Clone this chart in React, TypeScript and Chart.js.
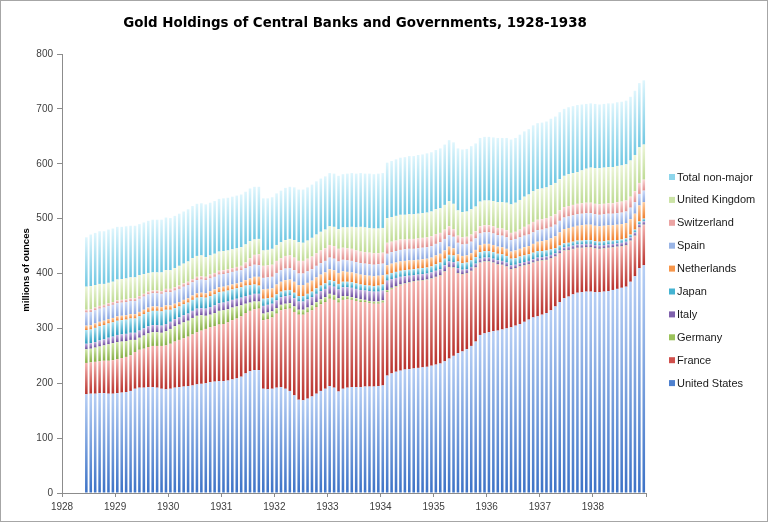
import { useEffect, useRef } from 'react';
import { Chart, registerables } from 'chart.js';

Chart.register(...registerables);

const TITLE = 'Gold Holdings of Central Banks and Governments, 1928-1938';
const Y_TITLE = 'millions of ounces';

// Categories: monthly, June 1928 .. December 1938
const FIRST_YEAR = 1928;
const FIRST_MONTH = 6;
const LAST_YEAR = 1938;
const months: string[] = [];
for (let y = FIRST_YEAR; y <= LAST_YEAR; y++) {
  for (let m = 1; m <= 12; m++) {
    if (y === FIRST_YEAR && m < FIRST_MONTH) continue;
    months.push(`${y}-${String(m).padStart(2, '0')}`);
  }
}

const yearLabels = ['1928', '1929', '1930', '1931', '1932', '1933', '1934', '1935', '1936', '1937', '1938'];

// millions of ounces
const unitedStates = [
  180, 181, 181, 182, 182, 181, 181,
  182, 183, 184, 186, 190, 192, 192, 193, 193, 192, 190, 189,
  190, 192, 193, 194, 195, 196, 198, 199, 200, 202, 203, 204,
  204, 205, 207, 209, 212, 218, 222, 224, 224, 190, 189, 190,
  192, 193, 190, 186, 178, 170, 169, 172, 176, 181, 186, 190,
  195, 192, 185, 190, 192, 193, 193, 193, 194, 194, 194, 195,
  196, 214, 218, 221, 223, 225, 226, 227, 228, 229, 230, 232,
  234, 236, 240, 245, 250, 255, 258, 262, 268, 276, 288, 291,
  293, 295, 296, 298, 300, 302, 305, 308, 312, 316, 320, 322,
  325, 328, 333, 340, 348, 355, 358, 362, 365, 366, 367, 367,
  366, 366, 367, 368, 370, 372, 374, 376, 385, 395, 410, 415,
];
const france = [
  57, 57, 58, 58, 59, 60, 61,
  62, 63, 64, 65, 67, 69, 71, 73, 75, 76, 78, 80,
  82, 84, 86, 88, 90, 93, 95, 97, 99, 100, 101, 103,
  104, 106, 108, 109, 110, 110, 110, 111, 112, 125, 128, 130,
  135, 140, 145, 150, 152, 155, 156, 157, 157, 158, 158, 158,
  159, 160, 162, 162, 161, 159, 157, 155, 154, 152, 151, 150,
  151, 152, 153, 154, 155, 156, 157, 158, 158, 158, 158, 158,
  159, 160, 163, 166, 160, 145, 140, 138, 136, 134, 131, 130,
  128, 124, 120, 117, 112, 105, 104, 104, 102, 100, 99, 100,
  98, 96, 94, 90, 88, 86, 84, 82, 81, 80, 80, 80,
  79, 78, 78, 78, 77, 76, 75, 75, 74, 73, 73, 73,
];
const germany = [
  25, 25, 26, 27, 28, 30, 31,
  31, 30, 29, 28, 22, 22, 24, 25, 25, 25, 24, 26,
  27, 28, 28, 29, 29, 30, 30, 28, 24, 23, 24, 25,
  25, 24, 23, 22, 20, 17, 15, 14, 13, 12, 12, 11,
  10, 10, 10, 10, 10, 9, 9, 9, 9, 9, 9, 9,
  9, 9, 8, 7, 6, 5, 5, 5, 4, 4, 4, 4,
  4, 4, 3, 2, 2, 1, 1, 1, 1, 1, 1, 1,
  1, 1, 1, 1, 1, 1, 1, 1, 1, 1, 1, 1,
  1, 1, 1, 1, 1, 1, 1, 1, 1, 1, 1, 1,
  1, 1, 1, 1, 1, 1, 1, 1, 1, 1, 1, 1,
  1, 1, 1, 1, 1, 1, 1, 1, 1, 1, 1, 1,
];
const italy = [
  10, 10, 10, 11, 11, 12, 12,
  13, 13, 13, 13, 13, 13, 13, 13, 13, 13, 13, 13,
  13, 13, 13, 13, 13, 13, 13, 13, 13, 14, 14, 14,
  14, 14, 14, 14, 14, 14, 14, 14, 14, 14, 14, 14,
  14, 14, 14, 14, 15, 15, 15, 15, 15, 15, 15, 15,
  15, 15, 16, 16, 16, 17, 17, 17, 17, 18, 18, 18,
  18, 17, 16, 15, 14, 13, 12, 11, 11, 11, 11, 11,
  11, 11, 11, 10, 10, 9, 8, 7, 7, 7, 7, 7,
  7, 7, 7, 7, 7, 7, 6, 6, 6, 6, 6, 6,
  6, 6, 6, 6, 6, 6, 6, 6, 6, 6, 6, 6,
  6, 6, 6, 6, 6, 6, 6, 6, 6, 6, 6, 6,
];
const japan = [
  25, 25, 26, 26, 26, 26, 26,
  26, 26, 26, 26, 26, 26, 26, 26, 26, 26, 26, 26,
  22, 20, 20, 20, 20, 20, 20, 20, 20, 20, 20, 20,
  20, 20, 19, 19, 19, 19, 18, 17, 15, 13, 12, 11,
  11, 10, 10, 10, 10, 10, 10, 10, 10, 10, 10, 10,
  10, 10, 10, 10, 10, 10, 10, 10, 10, 10, 10, 11,
  11, 11, 11, 11, 11, 11, 11, 11, 11, 11, 11, 11,
  12, 12, 12, 12, 12, 12, 12, 12, 12, 12, 12, 12,
  12, 12, 12, 12, 12, 12, 12, 12, 12, 12, 12, 12,
  11, 11, 10, 9, 8, 7, 7, 7, 7, 7, 7, 7,
  7, 7, 7, 7, 6, 6, 6, 6, 5, 5, 5, 5,
];
const netherlands = [
  8, 8, 8, 8, 8, 8, 8,
  8, 8, 8, 8, 8, 8, 8, 8, 8, 8, 8, 8,
  8, 8, 8, 8, 8, 8, 8, 8, 8, 9, 9, 9,
  9, 9, 9, 9, 9, 10, 12, 14, 16, 17, 17, 17,
  18, 18, 19, 19, 20, 20, 20, 20, 20, 20, 20, 20,
  20, 20, 20, 19, 18, 18, 18, 18, 18, 18, 18, 18,
  17, 17, 17, 17, 17, 17, 17, 16, 16, 16, 16, 16,
  16, 16, 15, 15, 13, 13, 13, 13, 13, 13, 13, 13,
  13, 13, 13, 13, 13, 13, 14, 14, 15, 15, 16, 17,
  18, 19, 20, 22, 24, 26, 27, 27, 27, 28, 28, 28,
  28, 28, 28, 28, 28, 28, 28, 28, 28, 29, 29, 30,
];
const spain = [
  24, 24, 24, 24, 24, 24, 24,
  24, 24, 24, 24, 24, 24, 24, 24, 24, 24, 24, 24,
  24, 24, 24, 24, 24, 24, 24, 24, 24, 23, 23, 23,
  23, 23, 23, 23, 22, 22, 22, 22, 21, 21, 21, 21,
  21, 21, 21, 21, 21, 21, 21, 21, 21, 21, 21, 21,
  21, 21, 21, 21, 21, 21, 21, 21, 21, 21, 21, 21,
  21, 21, 21, 21, 21, 21, 21, 21, 21, 21, 21, 21,
  21, 21, 21, 21, 21, 21, 21, 21, 21, 21, 21, 21,
  21, 21, 21, 21, 21, 21, 21, 21, 21, 21, 21, 21,
  21, 21, 21, 21, 21, 21, 21, 21, 21, 21, 21, 21,
  21, 21, 21, 21, 21, 21, 21, 21, 21, 21, 21, 21,
];
const switzerland = [
  5, 5, 5, 5, 5, 5, 5,
  5, 5, 5, 5, 5, 5, 5, 5, 5, 5, 5, 6,
  6, 6, 6, 6, 6, 6, 6, 6, 6, 7, 7, 7,
  7, 7, 7, 7, 8, 10, 15, 18, 20, 22, 22, 22,
  22, 22, 23, 23, 23, 23, 23, 23, 23, 23, 23, 23,
  23, 23, 23, 22, 22, 22, 21, 21, 21, 21, 21, 20,
  20, 20, 19, 19, 19, 18, 18, 18, 18, 18, 18, 18,
  18, 17, 17, 16, 14, 13, 13, 13, 13, 13, 13, 13,
  13, 13, 13, 13, 13, 13, 13, 14, 16, 18, 19, 19,
  19, 19, 19, 19, 19, 19, 19, 19, 19, 19, 19, 19,
  19, 19, 19, 19, 19, 20, 20, 20, 20, 20, 20, 20,
];
const unitedKingdom = [
  42, 42, 41, 40, 38, 37, 37,
  38, 38, 38, 38, 38, 38, 36, 34, 33, 33, 34, 34,
  34, 35, 36, 36, 37, 38, 38, 38, 36, 35, 35, 35,
  35, 34, 34, 34, 34, 33, 31, 28, 28, 28, 28, 29,
  29, 29, 29, 30, 32, 34, 33, 33, 34, 34, 34, 34,
  34, 35, 36, 37, 38, 40, 42, 45, 45, 45, 45, 45,
  45, 45, 45, 45, 45, 45, 45, 45, 45, 45, 45, 45,
  45, 45, 45, 46, 46, 46, 46, 46, 46, 45, 45, 45,
  45, 46, 47, 48, 50, 52, 53, 54, 55, 55, 56, 56,
  56, 56, 57, 57, 57, 57, 58, 58, 58, 60, 62, 64,
  65, 66, 66, 66, 66, 66, 66, 66, 66, 66, 65, 64,
];
const totalNonMajor = [
  90, 94, 95, 96, 96, 97, 97,
  96, 95, 95, 94, 94, 93, 94, 95, 96, 96, 96, 96,
  95, 95, 95, 95, 95, 95, 95, 95, 96, 96, 96, 96,
  96, 96, 96, 96, 96, 96, 96, 96, 95, 95, 94, 94,
  94, 94, 95, 95, 96, 96, 97, 97, 97, 97, 97, 97,
  97, 97, 97, 97, 98, 98, 98, 98, 98, 99, 99, 100,
  100, 101, 102, 103, 104, 105, 106, 106, 107, 107, 108, 108,
  108, 109, 110, 111, 112, 113, 114, 114, 115, 115, 116, 116,
  116, 116, 117, 117, 118, 118, 118, 119, 119, 119, 120, 120,
  120, 120, 121, 121, 122, 122, 122, 122, 122, 120, 118, 117,
  117, 116, 116, 116, 116, 116, 116, 116, 116, 117, 117, 117,
];

const seriesNames = [
  'United States', 'France', 'Germany', 'Italy', 'Japan',
  'Netherlands', 'Spain', 'Switzerland', 'United Kingdom', 'Total non-major',
];
const seriesData = [
  unitedStates, france, germany, italy, japan,
  netherlands, spain, switzerland, unitedKingdom, totalNonMajor,
];
// [light (top of bar), dark (bottom of bar), legend swatch]
const seriesColors: [string, string, string][] = [
  ['#b7cff5', '#3c72c6', '#4f81cf'],
  ['#f5b4b1', '#b8302b', '#d0504c'],
  ['#d2e8aa', '#86ae45', '#9bc25a'],
  ['#c6b3e2', '#6d4d9e', '#8062ad'],
  ['#aee3f2', '#2c9dbf', '#45b3d2'],
  ['#fdcfa4', '#ef7d2c', '#f7964a'],
  ['#cfdcf8', '#8aa7e0', '#9ab5e6'],
  ['#fad6d5', '#e08f8d', '#eba4a3'],
  ['#edf6da', '#bedb93', '#cbe3a5'],
  ['#dff6fd', '#6fc7e2', '#8ed6ec'],
];

const monthOffset = (label: string) => {
  const [y, m] = label.split('-').map(Number);
  return (y - FIRST_YEAR) * 12 + (m - 1) + 0.5;
};

const TITLE_WIDTH = 464;

const decorPlugin = {
  id: 'decor',
  afterDraw(chart: any) {
    const ctx = chart.ctx as CanvasRenderingContext2D;
    ctx.save();
    ctx.strokeStyle = '#a6a6a6';
    ctx.lineWidth = 1;
    ctx.strokeRect(0.5, 0.5, chart.width - 1, chart.height - 1);

    ctx.fillStyle = '#000000';
    ctx.textAlign = 'center';
    ctx.textBaseline = 'middle';
    const family = '"Liberation Sans Narrow", "DejaVu Sans Condensed", "Liberation Sans", Arial, sans-serif';
    let size = 20;
    ctx.font = `bold ${size}px ${family}`;
    const w = ctx.measureText(TITLE).width;
    if (w > TITLE_WIDTH) {
      size = Math.floor((size * TITLE_WIDTH / w) * 10) / 10;
      ctx.font = `bold ${size}px ${family}`;
    }
    ctx.fillText(TITLE, 355, 23);

    ctx.save();
    ctx.translate(26, 270);
    ctx.rotate(-Math.PI / 2);
    ctx.font = 'bold 9.5px "Liberation Sans", Arial, sans-serif';
    ctx.fillText(Y_TITLE, 0, 0);
    ctx.restore();

    // legend (reverse order, like the reference)
    ctx.textAlign = 'left';
    ctx.font = '11px "Liberation Sans", Arial, sans-serif';
    const n = chart.data.datasets.length;
    for (let k = 0; k < n; k++) {
      const d = n - 1 - k;
      const y = 177 + k * 22.9;
      ctx.fillStyle = seriesColors[d][2];
      ctx.fillRect(669, y - 3, 6, 6);
      ctx.fillStyle = '#1a1a1a';
      ctx.fillText(chart.data.datasets[d].label, 677, y + 0.5);
    }
    ctx.restore();
  },
};

export default function App() {
  const canvasRef = useRef<HTMLCanvasElement | null>(null);

  useEffect(() => {
    document.body.style.margin = '0';
    const canvas = canvasRef.current;
    if (!canvas) return;

    const bases: number[][] = seriesData.map(() => []);
    months.forEach((_, i) => {
      let acc = 0;
      seriesData.forEach((s, d) => {
        bases[d][i] = acc;
        acc += s[i];
      });
    });

    const datasets = seriesData.map((values, d) => ({
      label: seriesNames[d],
      data: months.map((mo, i) => ({ x: monthOffset(mo), y: values[i] })),
      backgroundColor: (c: any) => {
        const [light, dark] = seriesColors[d];
        if (c.type !== 'data') return dark;
        const ys = c.chart.scales?.y;
        if (!ys || ys.top === undefined) return dark;
        const i = c.dataIndex;
        const b = bases[d][i];
        const t = b + values[i];
        const y0 = ys.getPixelForValue(t);
        const y1 = ys.getPixelForValue(b);
        if (!isFinite(y0) || !isFinite(y1) || y1 - y0 < 0.5) return dark;
        const g = c.chart.ctx.createLinearGradient(0, y0, 0, y1);
        g.addColorStop(0, light);
        g.addColorStop(1, dark);
        return g;
      },
      borderWidth: 0,
      barPercentage: 0.58,
      categoryPercentage: 1,
    }));

    const axisColor = '#8c8c8c';
    const tickFont = { family: '"Liberation Sans", Arial, sans-serif', size: 10 };

    const chart = new Chart(canvas, {
      type: 'bar',
      data: { datasets },
      options: {
        responsive: false,
        animation: false,
        events: [],
        layout: { padding: { top: 54, right: 122, bottom: 0, left: 0 } },
        plugins: {
          legend: { display: false },
          title: { display: false },
          tooltip: { enabled: false },
        },
        scales: {
          x: {
            type: 'linear',
            stacked: true,
            offset: false,
            min: 0,
            max: yearLabels.length * 12,
            afterFit: (s: any) => { s.height = 29; },
            afterBuildTicks: (s: any) => {
              s.ticks = Array.from({ length: yearLabels.length + 1 }, (_, k) => ({ value: k * 12 }));
            },
            ticks: {
              autoSkip: false,
              maxRotation: 0,
              padding: 4,
              color: '#404040',
              font: tickFont,
              callback: (v: any) => yearLabels[Math.round(Number(v) / 12)] ?? '',
            },
            grid: {
              offset: false,
              drawOnChartArea: false,
              drawTicks: true,
              tickLength: 4,
              color: axisColor,
            },
            border: { display: true, color: axisColor },
          },
          y: {
            stacked: true,
            min: 0,
            max: 800,
            afterFit: (s: any) => { s.width = 62; },
            ticks: {
              stepSize: 100,
              padding: 4,
              color: '#404040',
              font: tickFont,
            },
            grid: {
              drawOnChartArea: false,
              drawTicks: true,
              tickLength: 5,
              color: axisColor,
            },
            border: { display: true, color: axisColor },
          },
        },
      },
      plugins: [decorPlugin],
    });

    return () => chart.destroy();
  }, []);

  return (
    <div style={{ width: 768, height: 522, background: '#ffffff' }}>
      <canvas ref={canvasRef} width={768} height={522} style={{ display: 'block' }} />
    </div>
  );
}
